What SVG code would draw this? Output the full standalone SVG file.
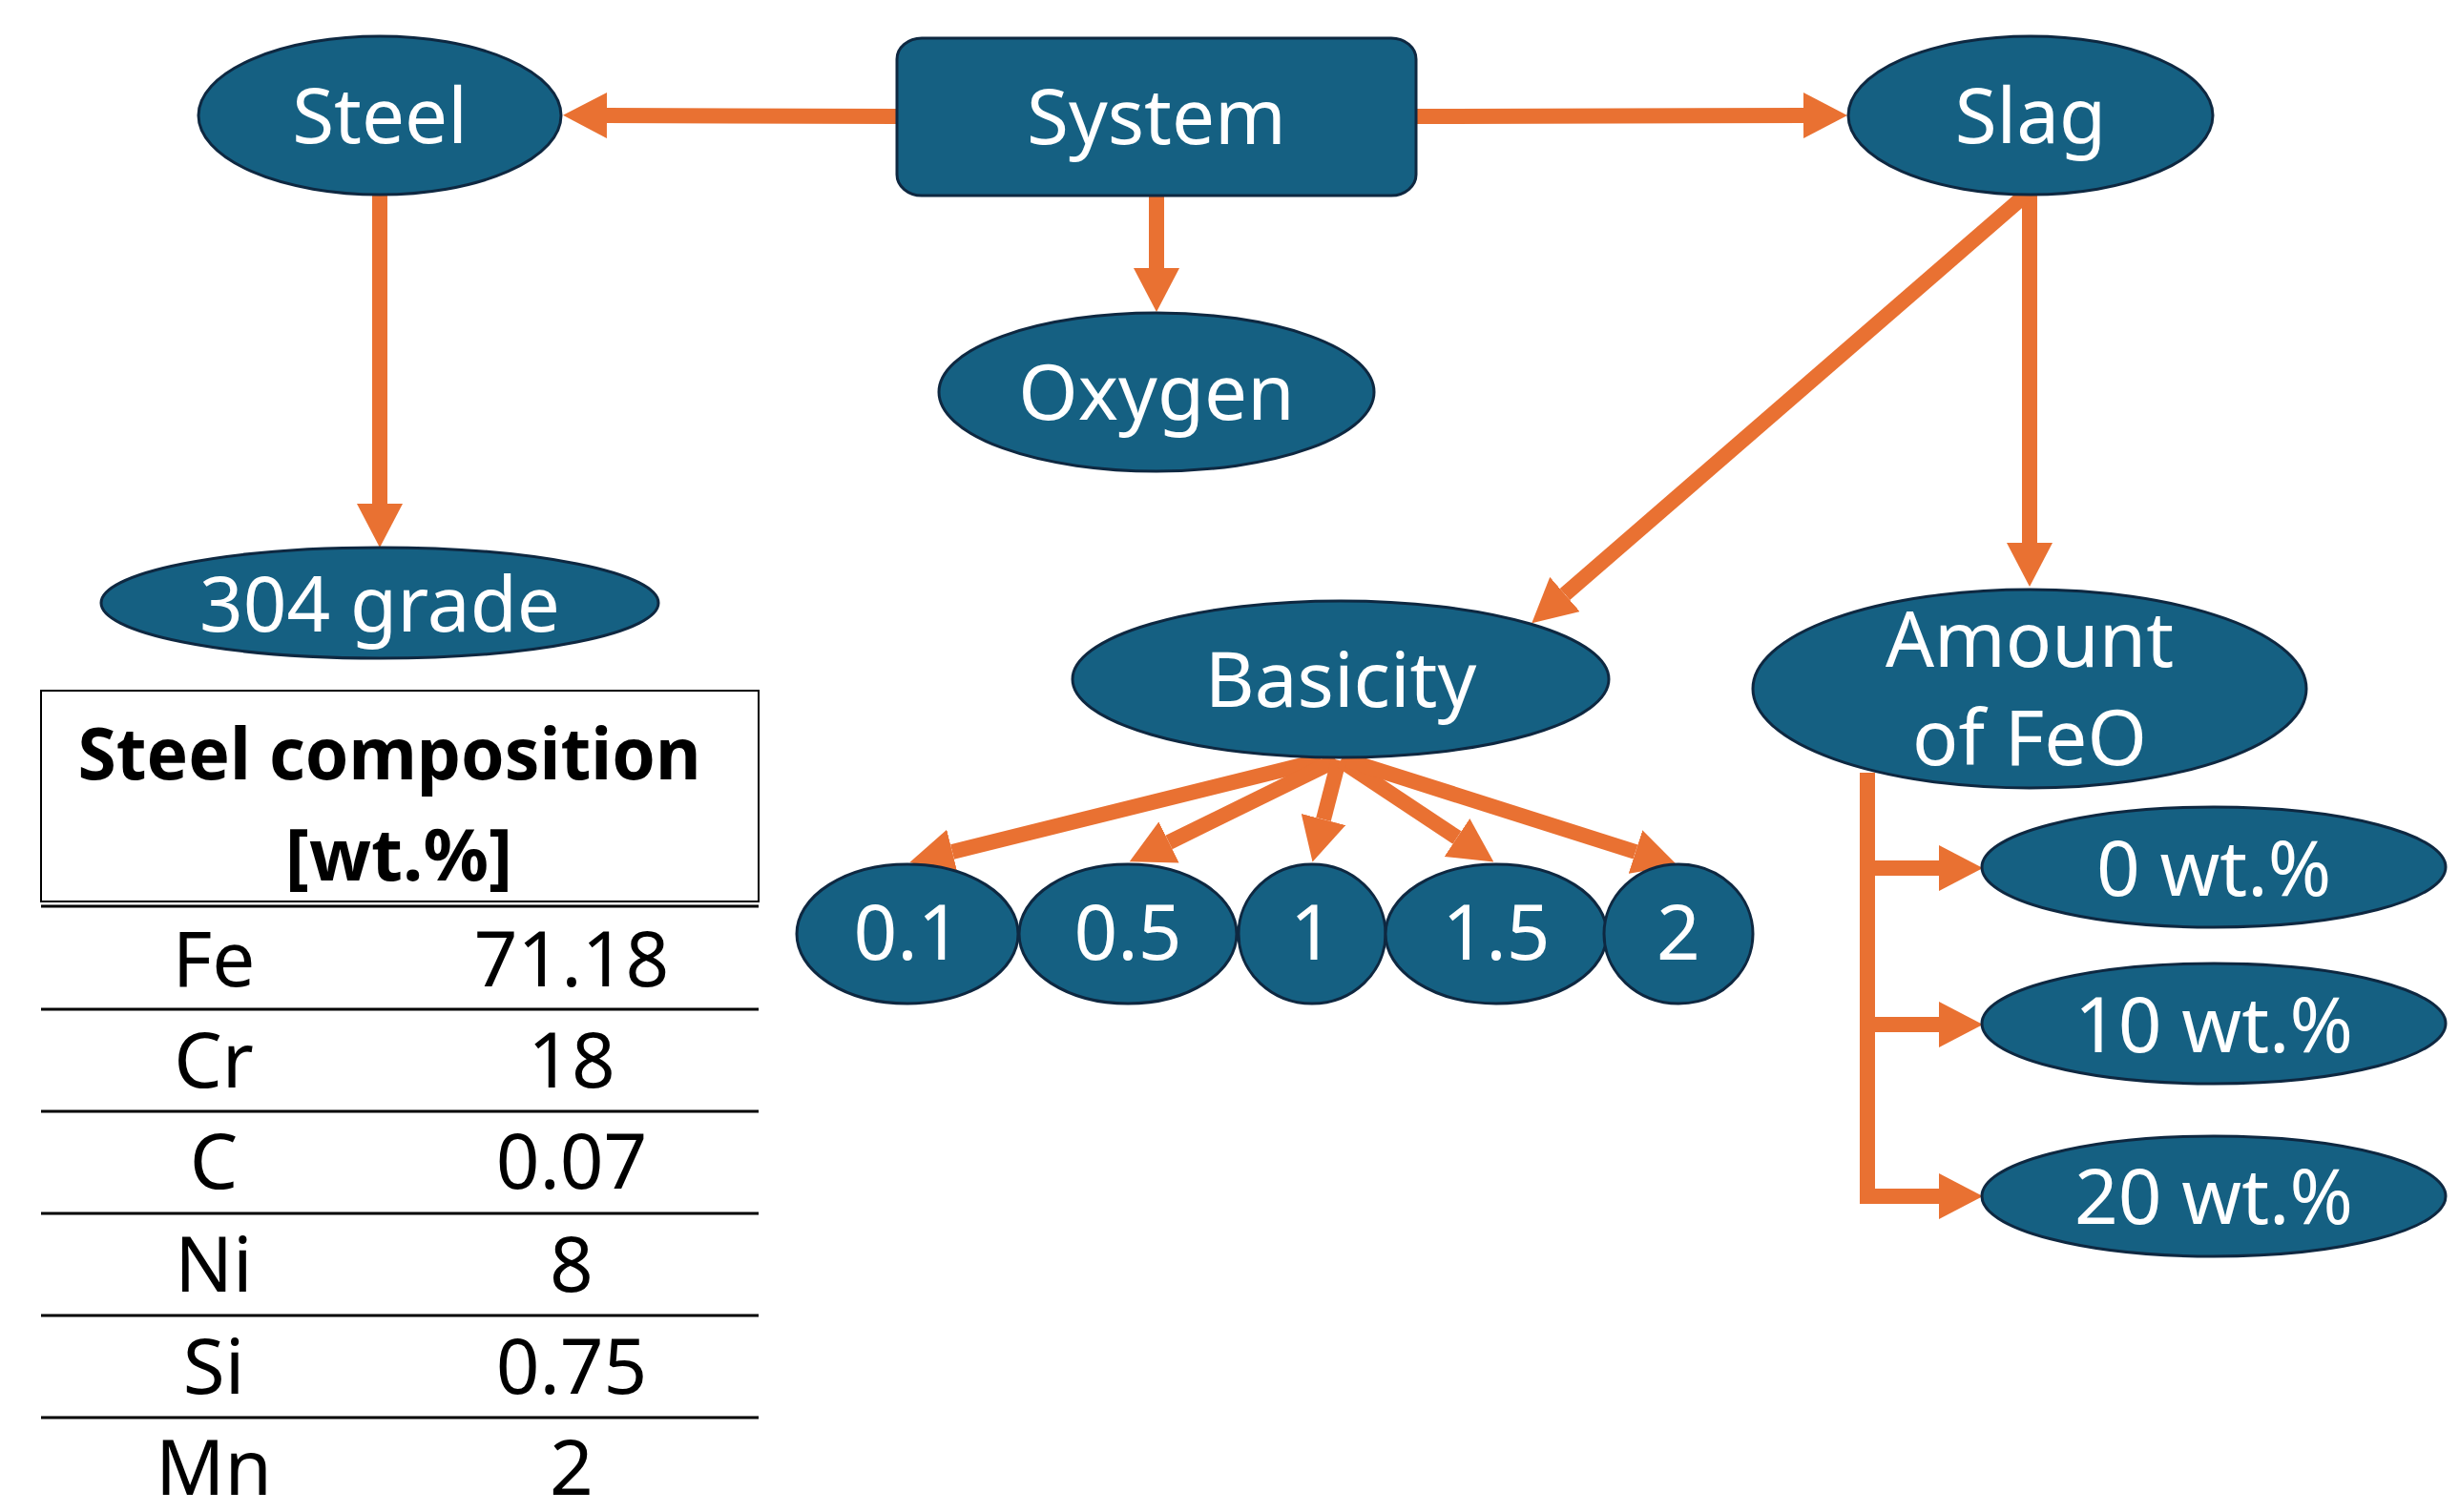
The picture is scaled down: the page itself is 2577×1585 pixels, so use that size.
<svg xmlns="http://www.w3.org/2000/svg" width="2577" height="1585" viewBox="0 0 2577 1585">
<defs>
<style>
.node{fill:#156082;stroke:#0E2841;stroke-width:3}
.lbl{font-family:"Noto Sans","Open Sans",sans-serif;font-size:80px;fill:#FFFFFF;text-anchor:middle}
.con{fill:none;stroke:#E97132;stroke-width:16;stroke-linejoin:miter}
.tbl{font-family:"Noto Sans","Open Sans",sans-serif;font-size:80px;fill:#000000;text-anchor:middle}
.hdr{font-family:"Noto Sans","Open Sans",sans-serif;font-size:76px;font-weight:700;fill:#000000;text-anchor:middle}
.rule{stroke:#000000;stroke-width:3}
</style>
<marker id="ah" viewBox="0 0 46 48" refX="0" refY="24" markerWidth="46" markerHeight="48" markerUnits="userSpaceOnUse" orient="auto">
<polygon points="0,0 46,24 0,48" fill="#E97132"/>
</marker>
</defs>
<rect width="2577" height="1585" fill="#FFFFFF"/>

<g id="connectors">
<path class="con" d="M940 122 L636 121" marker-end="url(#ah)"/>
<path class="con" d="M1484 122 L1890 121" marker-end="url(#ah)"/>
<path class="con" d="M1212 205 L1212 281" marker-end="url(#ah)"/>
<path class="con" d="M398 204 L398 528" marker-end="url(#ah)"/>
<path class="con" d="M2127 204 L2127 569" marker-end="url(#ah)"/>
<path class="con" d="M2122 205 L1640 623" marker-end="url(#ah)"/>
<path class="con" d="M1385 797 L998 893" marker-end="url(#ah)"/>
<path class="con" d="M1400 797 L1225 883" marker-end="url(#ah)"/>
<path class="con" d="M1403 797 L1387 859" marker-end="url(#ah)"/>
<path class="con" d="M1405 797 L1527 878" marker-end="url(#ah)"/>
<path class="con" d="M1412 797 L1714 893" marker-end="url(#ah)"/>
<path class="con" d="M1957 810 L1957 1254 L2032 1254" marker-end="url(#ah)"/>
<path class="con" d="M1957 910 L2032 910" marker-end="url(#ah)"/>
<path class="con" d="M1957 1074 L2032 1074" marker-end="url(#ah)"/>
</g>

<g id="system"><rect class="node" x="940" y="40" width="544" height="165" rx="26" ry="22"/><text class="lbl" x="1212" y="151">System</text></g>
<g id="steel"><ellipse class="node" cx="398" cy="121" rx="190" ry="83"/><text class="lbl" x="398" y="150">Steel</text></g>
<g id="slag"><ellipse class="node" cx="2128" cy="121" rx="191" ry="83"/><text class="lbl" x="2128" y="150">Slag</text></g>
<g id="oxygen"><ellipse class="node" cx="1212" cy="411" rx="228" ry="83"/><text class="lbl" x="1212" y="440">Oxygen</text></g>
<g id="grade304"><ellipse class="node" cx="398" cy="632" rx="292" ry="58"/><text class="lbl" x="398" y="662">304 grade</text></g>
<g id="basicity"><ellipse class="node" cx="1405" cy="712" rx="281" ry="82"/><text class="lbl" x="1405" y="741">Basicity</text></g>
<g id="amount"><ellipse class="node" cx="2127" cy="722" rx="290" ry="104"/><text class="lbl" x="2127" y="699">Amount</text><text class="lbl" x="2127" y="802">of FeO</text></g>
<g id="b01"><ellipse class="node" cx="951" cy="979" rx="116" ry="73"/><text class="lbl" x="951" y="1006">0.1</text></g>
<g id="b05"><ellipse class="node" cx="1182" cy="979" rx="114" ry="73"/><text class="lbl" x="1182" y="1006">0.5</text></g>
<g id="b1"><ellipse class="node" cx="1375" cy="979" rx="77" ry="73"/><text class="lbl" x="1375" y="1006">1</text></g>
<g id="b15"><ellipse class="node" cx="1568" cy="979" rx="116" ry="73"/><text class="lbl" x="1568" y="1006">1.5</text></g>
<g id="b2"><ellipse class="node" cx="1759" cy="979" rx="78" ry="73"/><text class="lbl" x="1759" y="1006">2</text></g>
<g id="feo0"><ellipse class="node" cx="2320" cy="909" rx="243" ry="63"/><text class="lbl" x="2320" y="939">0 wt.%</text></g>
<g id="feo10"><ellipse class="node" cx="2320" cy="1073" rx="243" ry="63"/><text class="lbl" x="2320" y="1103">10 wt.%</text></g>
<g id="feo20"><ellipse class="node" cx="2320" cy="1254" rx="243" ry="63"/><text class="lbl" x="2320" y="1283">20 wt.%</text></g>

<g id="table">
<rect x="43" y="724" width="752" height="221" fill="none" stroke="#000000" stroke-width="2"/>
<text class="hdr" x="408" y="817" textLength="653" lengthAdjust="spacingAndGlyphs">Steel composition</text>
<text class="hdr" x="418" y="923">[wt.%]</text>
<line class="rule" x1="43" y1="950" x2="795" y2="950"/>
<line class="rule" x1="43" y1="1058" x2="795" y2="1058"/>
<line class="rule" x1="43" y1="1165" x2="795" y2="1165"/>
<line class="rule" x1="43" y1="1272" x2="795" y2="1272"/>
<line class="rule" x1="43" y1="1379" x2="795" y2="1379"/>
<line class="rule" x1="43" y1="1486" x2="795" y2="1486"/>
<text class="tbl" x="224" y="1034">Fe</text><text class="tbl" x="599" y="1034">71.18</text>
<text class="tbl" x="224" y="1140">Cr</text><text class="tbl" x="599" y="1140">18</text>
<text class="tbl" x="224" y="1246">C</text><text class="tbl" x="599" y="1246">0.07</text>
<text class="tbl" x="224" y="1354">Ni</text><text class="tbl" x="599" y="1354">8</text>
<text class="tbl" x="224" y="1461">Si</text><text class="tbl" x="599" y="1461">0.75</text>
<text class="tbl" x="224" y="1567">Mn</text><text class="tbl" x="599" y="1567">2</text>
</g>
</svg>
